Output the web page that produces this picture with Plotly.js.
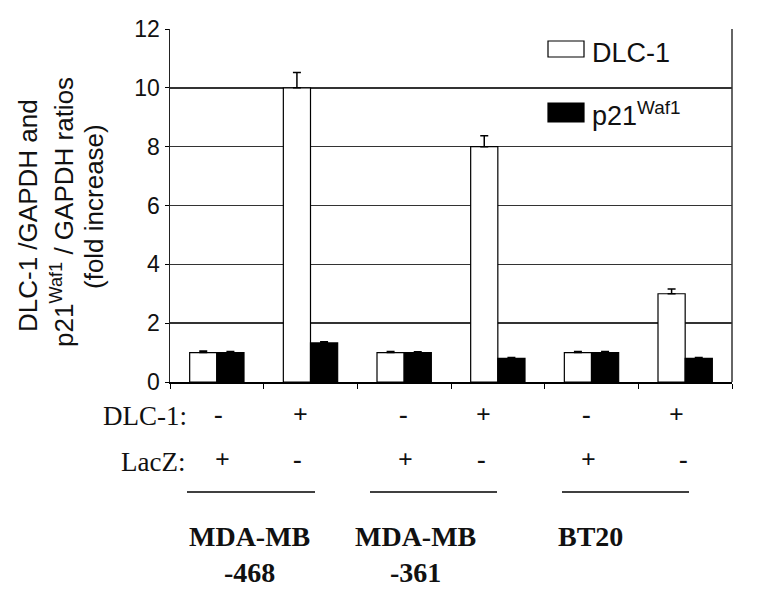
<!DOCTYPE html>
<html>
<head>
<meta charset="utf-8">
<script src="https://cdn.plot.ly/plotly-3.0.1.min.js"></script>
<style>html,body{margin:0;padding:0;background:#fff;}</style>
</head>
<body>
<div id="chart" style="width:758px;height:612px;"></div>
<script>
// ---- data ----
var categories = ["468 LacZ", "468 DLC-1", "361 LacZ", "361 DLC-1", "BT20 LacZ", "BT20 DLC-1"];
var dlc1Values = [1.0, 10.0, 1.0, 8.0, 1.0, 3.0];
var dlc1Errors = [0.05, 0.52, 0.04, 0.37, 0.04, 0.16];
var p21Values = [1.0, 1.33, 1.0, 0.8, 1.0, 0.8];
var p21Errors = [0.04, 0.04, 0.03, 0.03, 0.04, 0.03];
var dlcSigns = ["-", "+", "-", "+", "-", "+"];
var lacZSigns = ["+", "-", "+", "-", "+", "-"];
var cellLines = ["MDA-MB<br>-468", "MDA-MB<br>-361", "BT20"];
var yTicks = [0, 2, 4, 6, 8, 10, 12];

// ---- layout helpers (pixel -> paper) ----
var L = 170, R = 26, T = 29, B = 230, W = 758, H = 612;
var pw = W - L - R, ph = H - T - B;
function px(x) { return (x - L) / pw; }
function py(y) { return (H - B - y) / ph; }

var sans = "Liberation Sans, Arial, Helvetica, sans-serif";
var serif = "Liberation Serif, Times New Roman, serif";

var traces = [
  {
    type: "bar", name: "DLC-1", x: categories, y: dlc1Values,
    marker: {color: "#ffffff", line: {color: "#000", width: 1.2}},
    error_y: {type: "data", array: dlc1Errors, arrayminus: dlc1Values.map(function(){return 0;}), symmetric: false,
              color: "#000", thickness: 1.5, width: 4},
    showlegend: false
  },
  {
    type: "bar", name: "p21", x: categories, y: p21Values,
    marker: {color: "#000000", line: {color: "#000", width: 1.2}},
    error_y: {type: "data", array: p21Errors, arrayminus: p21Values.map(function(){return 0;}), symmetric: false,
              color: "#000", thickness: 1.5, width: 4},
    showlegend: false
  }
];

var annotations = [];
var shapes = [];

// y-axis title, three rotated lines
var titleLines = ["DLC-1 /GAPDH and", "p21<sup>Waf1</sup> / GAPDH ratios", "(fold increase)"];
var titleX = [28, 63, 94];
var titleY = [216, 212, 207];
titleLines.forEach(function(t, i) {
  annotations.push({text: t, xref: "paper", yref: "paper", x: px(titleX[i]), y: py(titleY[i]),
    xanchor: "center", yanchor: "middle", textangle: -90, showarrow: false,
    font: {family: sans, size: 26, color: "#111"}});
});

// legend (drawn)
shapes.push({type: "rect", xref: "paper", yref: "paper", x0: px(548), x1: px(584), y0: py(57), y1: py(41),
  fillcolor: "#fff", line: {color: "#000", width: 1.2}});
shapes.push({type: "rect", xref: "paper", yref: "paper", x0: px(548), x1: px(584), y0: py(122), y1: py(103),
  fillcolor: "#000", line: {color: "#000", width: 1.2}});
annotations.push({text: "DLC-1", xref: "paper", yref: "paper", x: px(590), y: py(53), xanchor: "left", yanchor: "middle",
  showarrow: false, font: {family: sans, size: 27, color: "#111"}});
annotations.push({text: "p21<sup>Waf1</sup>", xref: "paper", yref: "paper", x: px(590), y: py(114), xanchor: "left", yanchor: "middle",
  showarrow: false, font: {family: sans, size: 27, color: "#111"}});

// row labels
annotations.push({text: "DLC-1:", xref: "paper", yref: "paper", x: px(189), y: py(416), xanchor: "right", yanchor: "middle",
  showarrow: false, font: {family: serif, size: 27, color: "#111"}});
annotations.push({text: "LacZ:", xref: "paper", yref: "paper", x: px(187), y: py(462), xanchor: "right", yanchor: "middle",
  showarrow: false, font: {family: serif, size: 27, color: "#111"}});

var dlcSignX = [218, 300, 403, 483, 586, 676];
var lacSignX = [222, 297, 405, 481, 588, 683];
dlcSigns.forEach(function(s, i) {
  annotations.push({text: "<b>" + s + "</b>", xref: "paper", yref: "paper", x: px(dlcSignX[i]), y: py(414), xanchor: "center", yanchor: "middle",
    showarrow: false, font: {family: serif, size: 26, color: "#111"}});
});
lacZSigns.forEach(function(s, i) {
  annotations.push({text: "<b>" + s + "</b>", xref: "paper", yref: "paper", x: px(lacSignX[i]), y: py(460), xanchor: "center", yanchor: "middle",
    showarrow: false, font: {family: serif, size: 26, color: "#111"}});
});

// group underlines
var lineSeg = [[187, 315], [370, 497], [562, 689]];
lineSeg.forEach(function(s) {
  shapes.push({type: "line", xref: "paper", yref: "paper", x0: px(s[0]), x1: px(s[1]), y0: py(492), y1: py(492),
    line: {color: "#000", width: 1.5}});
});

// cell line labels
var cellX = [249, 415, 590];
cellLines.forEach(function(c, i) {
  annotations.push({text: "<b>" + c + "</b>", xref: "paper", yref: "paper", x: px(cellX[i]), y: py(519), xanchor: "center", yanchor: "top",
    showarrow: false, font: {family: serif, size: 28, color: "#111"}});
});

var layout = {
  width: W, height: H,
  margin: {l: L, r: R, t: T, b: B, pad: 0},
  paper_bgcolor: "#fff", plot_bgcolor: "#fff",
  barmode: "group", bargap: 0.42, bargroupgap: 0,
  showlegend: false,
  xaxis: {
    type: "category", showticklabels: false, tickson: "boundaries",
    ticks: "outside", ticklen: 5, tickcolor: "#000", tickwidth: 1,
    showline: true, linecolor: "#000", linewidth: 2, mirror: false,
    showgrid: false, zeroline: false, fixedrange: true
  },
  yaxis: {
    range: [0, 12], tickvals: yTicks, ticktext: yTicks.map(String),
    ticks: "outside", ticklen: 4, tickcolor: "#000",
    showline: true, linecolor: "#222", linewidth: 1.5, mirror: false,
    showgrid: true, gridcolor: "#333", gridwidth: 1.5, zeroline: false,
    tickfont: {family: sans, size: 23, color: "#111"}, fixedrange: true
  },
  shapes: shapes.concat([
    {type: "line", xref: "paper", yref: "paper", x0: 1, x1: 1, y0: 0, y1: 1, line: {color: "#333", width: 1.5}}
  ]),
  annotations: annotations
};

Plotly.newPlot("chart", traces, layout, {displayModeBar: false, staticPlot: true});
</script>
</body>
</html>
